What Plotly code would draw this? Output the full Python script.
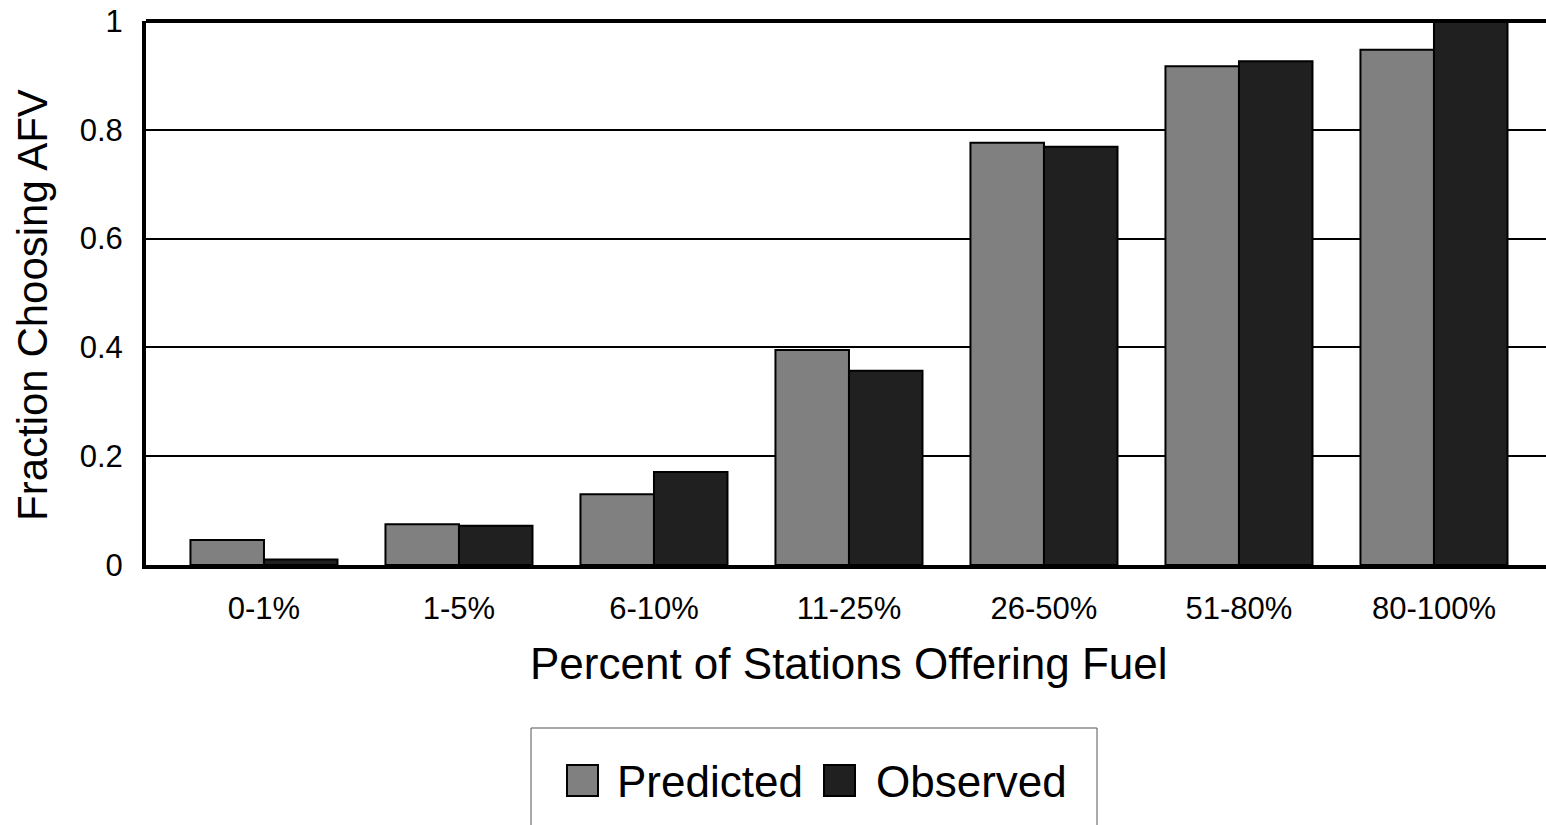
import plotly.graph_objects as go

categories = ["0-1%", "1-5%", "6-10%", "11-25%", "26-50%", "51-80%", "80-100%"]
predicted = [0.046, 0.075, 0.130, 0.395, 0.776, 0.917, 0.947]
observed = [0.010, 0.072, 0.171, 0.357, 0.769, 0.926, 1.000]
y_ticks = [0, 0.2, 0.4, 0.6, 0.8, 1]
y_tick_labels = ["0", "0.2", "0.4", "0.6", "0.8", "1"]
series_names = ["Predicted", "Observed"]
series_colors = ["#808080", "#202020"]

FONT = "Liberation Sans, Arial, sans-serif"
W, H = 1546, 825
L, R, T, B = 146, 0, 21, 825 - 565

fig = go.Figure()
for name, vals, col in zip(series_names, [predicted, observed], series_colors):
    fig.add_trace(go.Bar(
        x=list(range(len(categories))), y=vals, name=name,
        marker=dict(color=col, line=dict(color="black", width=2)),
        showlegend=False,
    ))

fig.update_layout(
    width=W, height=H,
    margin=dict(l=L, r=R, t=T, b=B, pad=0, autoexpand=False),
    paper_bgcolor="white", plot_bgcolor="white",
    barmode="group", bargap=0.246, bargroupgap=0,
    font=dict(family=FONT, color="black", size=31),
    xaxis=dict(
        range=[-0.605, -0.605 + (W - L - R) / 195.0], tickmode="array",
        tickvals=list(range(len(categories))), ticktext=categories,
        showgrid=False, zeroline=False, automargin=False,
        showline=True, linecolor="black", linewidth=4,
        ticks="", ticklabelstandoff=13,
        tickfont=dict(size=31),
    ),
    yaxis=dict(
        range=[0, 1], tickmode="array", tickvals=y_ticks, ticktext=y_tick_labels,
        showgrid=True, gridcolor="black", gridwidth=2,
        zeroline=False, automargin=False,
        showline=True, linecolor="black", linewidth=4,
        ticks="", ticklabelstandoff=13, ticklabeloverflow="allow",
        tickfont=dict(size=31),
    ),
)

# top border of plot area
fig.add_shape(type="line", xref="paper", yref="paper", x0=0, x1=1, y0=1, y1=1,
              line=dict(color="black", width=4), layer="above")

def px(xp):
    return (xp - L) / (W - L - R)

def py(yp):
    return (H - B - yp) / (H - T - B)

# axis titles
fig.add_annotation(xref="paper", yref="paper", x=px(849), y=py(663),
                   text="Percent of Stations Offering Fuel", showarrow=False,
                   xanchor="center", yanchor="middle",
                   font=dict(size=44, family=FONT, color="black"))
fig.add_annotation(xref="paper", yref="paper", x=px(33), y=py(305),
                   text="Fraction Choosing AFV", showarrow=False, textangle=-90,
                   xanchor="center", yanchor="middle",
                   font=dict(size=42, family=FONT, color="black"))

# manual legend (box, swatches, labels)
fig.add_shape(type="rect", xref="paper", yref="paper",
              x0=px(531), x1=px(1097), y0=py(728), y1=py(850),
              line=dict(color="#555555", width=1), fillcolor="white", layer="above")
swatches = [(567, 598, 615), (824, 855, 874)]
for (sx0, sx1, tx), name, col in zip(swatches, series_names, series_colors):
    fig.add_shape(type="rect", xref="paper", yref="paper",
                  x0=px(sx0), x1=px(sx1), y0=py(765), y1=py(796),
                  line=dict(color="black", width=2), fillcolor=col, layer="above")
    fig.add_annotation(xref="paper", yref="paper", x=px(tx), y=py(781),
                       text=name, showarrow=False, xanchor="left", yanchor="middle",
                       font=dict(size=44, family=FONT, color="black"))

fig.write_html(
    "out.html",
    config={"displayModeBar": False},
    post_script="document.body.style.margin='0';document.body.style.overflow='hidden';",
)
